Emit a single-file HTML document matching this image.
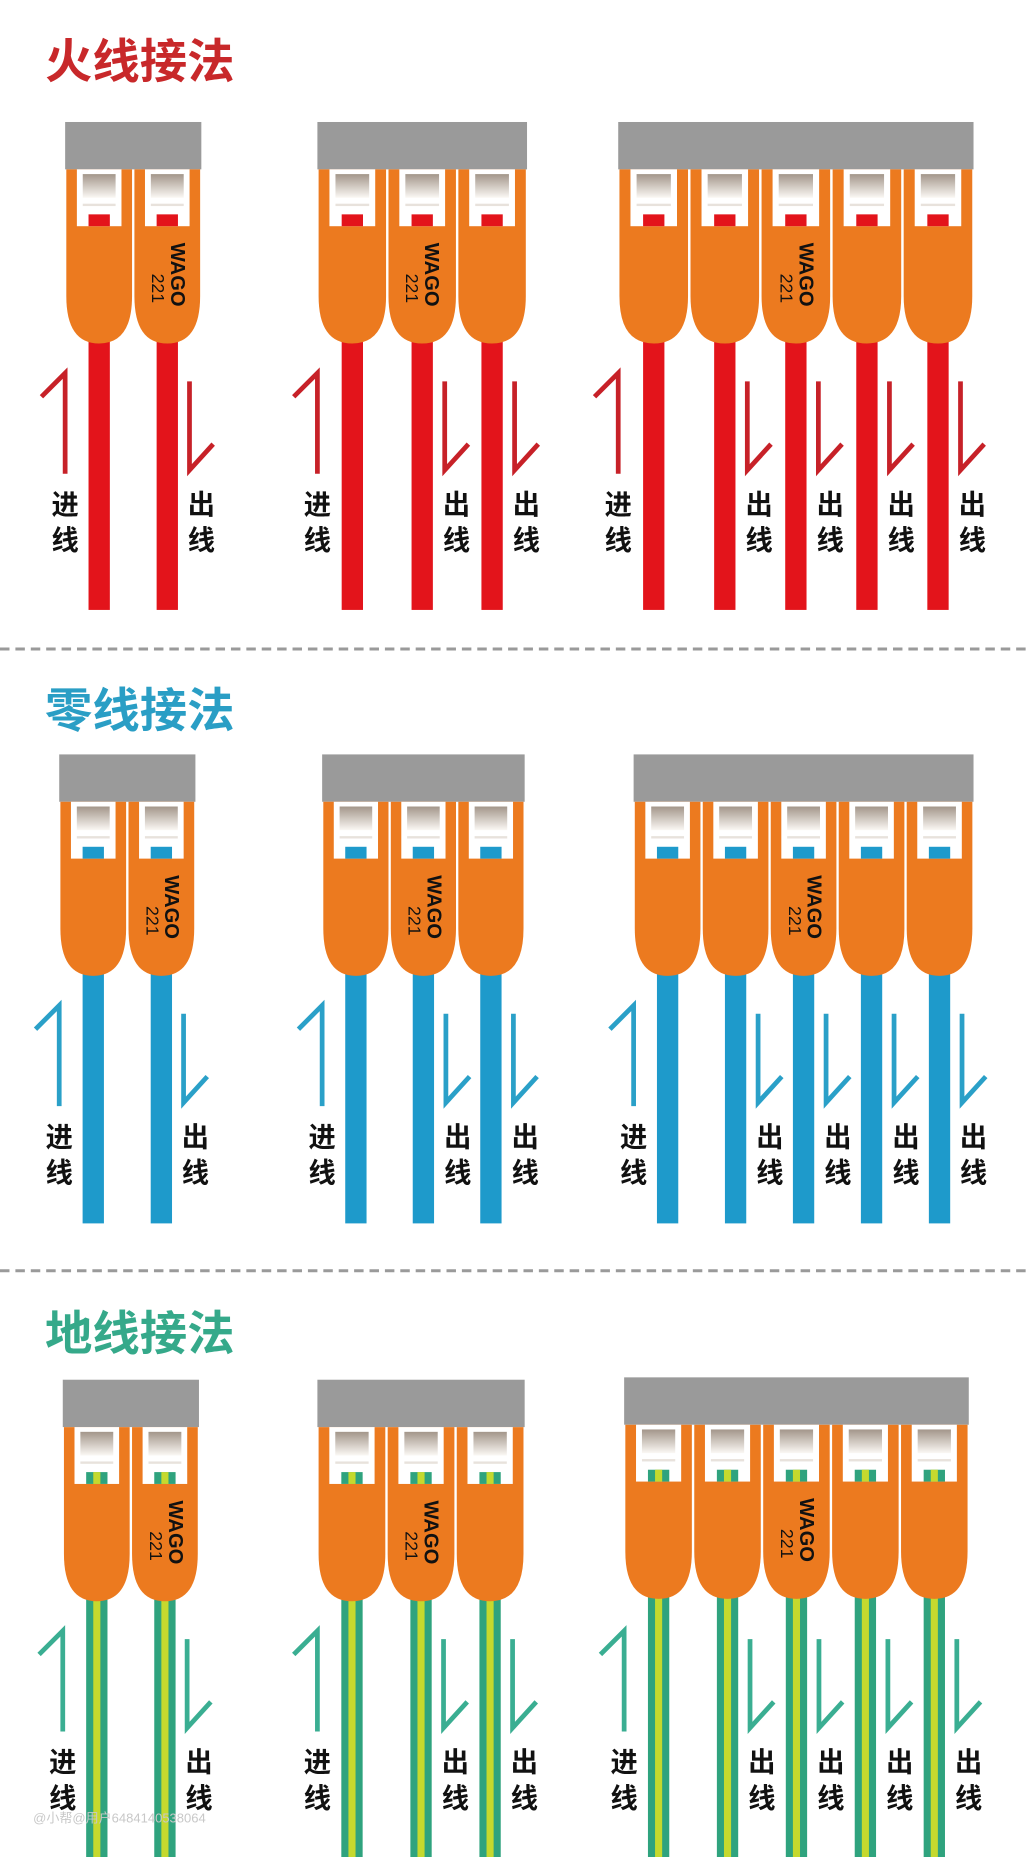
<!DOCTYPE html>
<html><head><meta charset="utf-8">
<style>
html,body{margin:0;padding:0;background:#fff;}
svg{display:block;}
text{font-family:"Liberation Sans","Noto Sans CJK SC",sans-serif;}
.t{font-size:40px;font-weight:bold;}
.l{font-size:23px;font-weight:bold;fill:#111;text-anchor:middle;}
.wg{font-size:17px;font-weight:900;fill:#111;}
.nm{font-size:15px;fill:#111;}
.ar{fill:none;stroke-width:4;}
</style></head><body>
<svg width="1028" height="1857" viewBox="0 0 868 1568" preserveAspectRatio="none" xmlns="http://www.w3.org/2000/svg">
<defs>
<linearGradient id="gr" x1="0" y1="0" x2="0" y2="1">
<stop offset="0" stop-color="#a3968a"/><stop offset="1" stop-color="#fbf8f4"/>
</linearGradient>
<g id="slot">
<path d="M1,40 H57 V147 Q57,187 29,187 Q1,187 1,147 Z" fill="#ec7a1f"/>
<rect x="10" y="40" width="38" height="48" fill="#fff"/>
<rect x="15" y="44" width="28" height="20" fill="url(#gr)"/>
<rect x="15" y="69" width="28" height="2" fill="#e8e2dc"/>
</g>
</defs>
<rect width="868" height="1568" fill="#fff"/>

<!-- ===== Section 1 ===== -->
<text class="t" x="38" y="66" fill="#c8282a">火线接法</text>

<g transform="translate(55,103)">
<g fill="#e3141b"><rect x="19.75" y="150" width="18" height="262"/><rect x="77.25" y="150" width="18" height="262"/></g>
<rect width="115" height="40" fill="#9a9a9a"/>
<use href="#slot" transform="scale(.991,1)"/><use href="#slot" transform="translate(57.5,0) scale(.991,1)"/>
<g fill="#e3141b"><rect x="19.75" y="78" width="18" height="10"/><rect x="77.25" y="78" width="18" height="10"/></g>
<g transform="translate(89.5,102) rotate(90)"><text class="wg" x="0" y="0">WAGO</text><text class="nm" x="26" y="16">221</text></g>
<g class="ar" stroke="#c72128"><path d="M0,297 V212 L-20,232"/><path d="M105,219 V294 L125,272"/></g>
<text class="l" x="0" y="331">进</text><text class="l" x="0" y="361">线</text>
<text class="l" x="115" y="331">出</text><text class="l" x="115" y="361">线</text>
</g>

<g transform="translate(268,103)">
<g fill="#e3141b"><rect x="20.5" y="150" width="18" height="262"/><rect x="79.5" y="150" width="18" height="262"/><rect x="138.5" y="150" width="18" height="262"/></g>
<rect width="177" height="40" fill="#9a9a9a"/>
<use href="#slot" transform="scale(1.017,1)"/><use href="#slot" transform="translate(59,0) scale(1.017,1)"/><use href="#slot" transform="translate(118,0) scale(1.017,1)"/>
<g fill="#e3141b"><rect x="20.5" y="78" width="18" height="10"/><rect x="79.5" y="78" width="18" height="10"/><rect x="138.5" y="78" width="18" height="10"/></g>
<g transform="translate(91,102) rotate(90)"><text class="wg" x="0" y="0">WAGO</text><text class="nm" x="26" y="16">221</text></g>
<g class="ar" stroke="#c72128"><path d="M0,297 V212 L-20,232"/><path d="M107.5,219 V294 L127.5,272"/><path d="M166.5,219 V294 L186.5,272"/></g>
<text class="l" x="0" y="331">进</text><text class="l" x="0" y="361">线</text>
<text class="l" x="117.5" y="331">出</text><text class="l" x="117.5" y="361">线</text>
<text class="l" x="176.5" y="331">出</text><text class="l" x="176.5" y="361">线</text>
</g>

<g transform="translate(522,103)">
<g fill="#e3141b"><rect x="21" y="150" width="18" height="262"/><rect x="81" y="150" width="18" height="262"/><rect x="141" y="150" width="18" height="262"/><rect x="201" y="150" width="18" height="262"/><rect x="261" y="150" width="18" height="262"/></g>
<rect width="300" height="40" fill="#9a9a9a"/>
<use href="#slot" transform="scale(1.034,1)"/><use href="#slot" transform="translate(60,0) scale(1.034,1)"/><use href="#slot" transform="translate(120,0) scale(1.034,1)"/><use href="#slot" transform="translate(180,0) scale(1.034,1)"/><use href="#slot" transform="translate(240,0) scale(1.034,1)"/>
<g fill="#e3141b"><rect x="21" y="78" width="18" height="10"/><rect x="81" y="78" width="18" height="10"/><rect x="141" y="78" width="18" height="10"/><rect x="201" y="78" width="18" height="10"/><rect x="261" y="78" width="18" height="10"/></g>
<g transform="translate(153,102) rotate(90)"><text class="wg" x="0" y="0">WAGO</text><text class="nm" x="26" y="16">221</text></g>
<g class="ar" stroke="#c72128"><path d="M0,297 V212 L-20,232"/><path d="M109,219 V294 L129,272"/><path d="M169,219 V294 L189,272"/><path d="M229,219 V294 L249,272"/><path d="M289,219 V294 L309,272"/></g>
<text class="l" x="0" y="331">进</text><text class="l" x="0" y="361">线</text>
<text class="l" x="119" y="331">出</text><text class="l" x="119" y="361">线</text>
<text class="l" x="179" y="331">出</text><text class="l" x="179" y="361">线</text>
<text class="l" x="239" y="331">出</text><text class="l" x="239" y="361">线</text>
<text class="l" x="299" y="331">出</text><text class="l" x="299" y="361">线</text>
</g>

<line x1="0" y1="548" x2="868" y2="548" stroke="#9a9a9a" stroke-width="2.5" stroke-dasharray="8 5"/>

<!-- ===== Section 2 ===== -->
<text class="t" x="38" y="614" fill="#2a9ec5">零线接法</text>

<g transform="translate(50,637)">
<g fill="#1e9acb"><rect x="19.75" y="150" width="18" height="246"/><rect x="77.25" y="150" width="18" height="246"/></g>
<rect width="115" height="40" fill="#9a9a9a"/>
<use href="#slot" transform="scale(.991,1)"/><use href="#slot" transform="translate(57.5,0) scale(.991,1)"/>
<g fill="#1e9acb"><rect x="19.75" y="78" width="18" height="10"/><rect x="77.25" y="78" width="18" height="10"/></g>
<g transform="translate(89.5,102) rotate(90)"><text class="wg" x="0" y="0">WAGO</text><text class="nm" x="26" y="16">221</text></g>
<g class="ar" stroke="#2aa0c8"><path d="M0,297 V212 L-20,232"/><path d="M105,219 V294 L125,272"/></g>
<text class="l" x="0" y="331">进</text><text class="l" x="0" y="361">线</text>
<text class="l" x="115" y="331">出</text><text class="l" x="115" y="361">线</text>
</g>

<g transform="translate(272,637)">
<g fill="#1e9acb"><rect x="19.5" y="150" width="18" height="246"/><rect x="76.5" y="150" width="18" height="246"/><rect x="133.5" y="150" width="18" height="246"/></g>
<rect width="171" height="40" fill="#9a9a9a"/>
<use href="#slot" transform="scale(.983,1)"/><use href="#slot" transform="translate(57,0) scale(.983,1)"/><use href="#slot" transform="translate(114,0) scale(.983,1)"/>
<g fill="#1e9acb"><rect x="19.5" y="78" width="18" height="10"/><rect x="76.5" y="78" width="18" height="10"/><rect x="133.5" y="78" width="18" height="10"/></g>
<g transform="translate(89,102) rotate(90)"><text class="wg" x="0" y="0">WAGO</text><text class="nm" x="26" y="16">221</text></g>
<g class="ar" stroke="#2aa0c8"><path d="M0,297 V212 L-20,232"/><path d="M104.5,219 V294 L124.5,272"/><path d="M161.5,219 V294 L181.5,272"/></g>
<text class="l" x="0" y="331">进</text><text class="l" x="0" y="361">线</text>
<text class="l" x="114.5" y="331">出</text><text class="l" x="114.5" y="361">线</text>
<text class="l" x="171.5" y="331">出</text><text class="l" x="171.5" y="361">线</text>
</g>

<g transform="translate(535,637)">
<g fill="#1e9acb"><rect x="19.7" y="150" width="18" height="246"/><rect x="77.1" y="150" width="18" height="246"/><rect x="134.5" y="150" width="18" height="246"/><rect x="191.9" y="150" width="18" height="246"/><rect x="249.3" y="150" width="18" height="246"/></g>
<rect width="287" height="40" fill="#9a9a9a"/>
<use href="#slot" transform="scale(.99,1)"/><use href="#slot" transform="translate(57.4,0) scale(.99,1)"/><use href="#slot" transform="translate(114.8,0) scale(.99,1)"/><use href="#slot" transform="translate(172.2,0) scale(.99,1)"/><use href="#slot" transform="translate(229.6,0) scale(.99,1)"/>
<g fill="#1e9acb"><rect x="19.7" y="78" width="18" height="10"/><rect x="77.1" y="78" width="18" height="10"/><rect x="134.5" y="78" width="18" height="10"/><rect x="191.9" y="78" width="18" height="10"/><rect x="249.3" y="78" width="18" height="10"/></g>
<g transform="translate(147,102) rotate(90)"><text class="wg" x="0" y="0">WAGO</text><text class="nm" x="26" y="16">221</text></g>
<g class="ar" stroke="#2aa0c8"><path d="M0,297 V212 L-20,232"/><path d="M105.1,219 V294 L125.1,272"/><path d="M162.5,219 V294 L182.5,272"/><path d="M219.9,219 V294 L239.9,272"/><path d="M277.3,219 V294 L297.3,272"/></g>
<text class="l" x="0" y="331">进</text><text class="l" x="0" y="361">线</text>
<text class="l" x="115" y="331">出</text><text class="l" x="115" y="361">线</text>
<text class="l" x="172.5" y="331">出</text><text class="l" x="172.5" y="361">线</text>
<text class="l" x="230" y="331">出</text><text class="l" x="230" y="361">线</text>
<text class="l" x="287" y="331">出</text><text class="l" x="287" y="361">线</text>
</g>

<line x1="0" y1="1073" x2="868" y2="1073" stroke="#9a9a9a" stroke-width="2.5" stroke-dasharray="8 5"/>

<!-- ===== Section 3 ===== -->
<text class="t" x="38" y="1140" fill="#35a98a">地线接法</text>

<g transform="translate(53,1165)">
<g fill="#2fa37e"><rect x="19.75" y="150" width="18" height="260"/><rect x="77.25" y="150" width="18" height="260"/></g>
<g fill="#c5d92e"><rect x="25.75" y="150" width="6" height="260"/><rect x="83.25" y="150" width="6" height="260"/></g>
<rect width="115" height="40" fill="#9a9a9a"/>
<use href="#slot" transform="scale(.991,1)"/><use href="#slot" transform="translate(57.5,0) scale(.991,1)"/>
<g fill="#2fa37e"><rect x="19.75" y="78" width="18" height="10"/><rect x="77.25" y="78" width="18" height="10"/></g>
<g fill="#c5d92e"><rect x="25.75" y="78" width="6" height="10"/><rect x="83.25" y="78" width="6" height="10"/></g>
<g transform="translate(89.5,102) rotate(90)"><text class="wg" x="0" y="0">WAGO</text><text class="nm" x="26" y="16">221</text></g>
<g class="ar" stroke="#3aae92"><path d="M0,297 V212 L-20,232"/><path d="M105,219 V294 L125,272"/></g>
<text class="l" x="0" y="331">进</text><text class="l" x="0" y="361">线</text>
<text class="l" x="115" y="331">出</text><text class="l" x="115" y="361">线</text>
</g>

<g transform="translate(268,1165)">
<g fill="#2fa37e"><rect x="20.2" y="150" width="18" height="260"/><rect x="78.5" y="150" width="18" height="260"/><rect x="136.8" y="150" width="18" height="260"/></g>
<g fill="#c5d92e"><rect x="26.2" y="150" width="6" height="260"/><rect x="84.5" y="150" width="6" height="260"/><rect x="142.8" y="150" width="6" height="260"/></g>
<rect width="175" height="40" fill="#9a9a9a"/>
<use href="#slot" transform="scale(1.006,1)"/><use href="#slot" transform="translate(58.33,0) scale(1.006,1)"/><use href="#slot" transform="translate(116.67,0) scale(1.006,1)"/>
<g fill="#2fa37e"><rect x="20.2" y="78" width="18" height="10"/><rect x="78.5" y="78" width="18" height="10"/><rect x="136.8" y="78" width="18" height="10"/></g>
<g fill="#c5d92e"><rect x="26.2" y="78" width="6" height="10"/><rect x="84.5" y="78" width="6" height="10"/><rect x="142.8" y="78" width="6" height="10"/></g>
<g transform="translate(90.5,102) rotate(90)"><text class="wg" x="0" y="0">WAGO</text><text class="nm" x="26" y="16">221</text></g>
<g class="ar" stroke="#3aae92"><path d="M0,297 V212 L-20,232"/><path d="M106.5,219 V294 L126.5,272"/><path d="M164.8,219 V294 L184.8,272"/></g>
<text class="l" x="0" y="331">进</text><text class="l" x="0" y="361">线</text>
<text class="l" x="116.5" y="331">出</text><text class="l" x="116.5" y="361">线</text>
<text class="l" x="174.8" y="331">出</text><text class="l" x="174.8" y="361">线</text>
</g>

<g transform="translate(527,1163)">
<g fill="#2fa37e"><rect x="20.1" y="150" width="18" height="260"/><rect x="78.3" y="150" width="18" height="260"/><rect x="136.5" y="150" width="18" height="260"/><rect x="194.7" y="150" width="18" height="260"/><rect x="252.9" y="150" width="18" height="260"/></g>
<g fill="#c5d92e"><rect x="26.1" y="150" width="6" height="260"/><rect x="84.3" y="150" width="6" height="260"/><rect x="142.5" y="150" width="6" height="260"/><rect x="200.7" y="150" width="6" height="260"/><rect x="258.9" y="150" width="6" height="260"/></g>
<rect width="291" height="40" fill="#9a9a9a"/>
<use href="#slot" transform="scale(1.003,1)"/><use href="#slot" transform="translate(58.2,0) scale(1.003,1)"/><use href="#slot" transform="translate(116.4,0) scale(1.003,1)"/><use href="#slot" transform="translate(174.6,0) scale(1.003,1)"/><use href="#slot" transform="translate(232.8,0) scale(1.003,1)"/>
<g fill="#2fa37e"><rect x="20.1" y="78" width="18" height="10"/><rect x="78.3" y="78" width="18" height="10"/><rect x="136.5" y="78" width="18" height="10"/><rect x="194.7" y="78" width="18" height="10"/><rect x="252.9" y="78" width="18" height="10"/></g>
<g fill="#c5d92e"><rect x="26.1" y="78" width="6" height="10"/><rect x="84.3" y="78" width="6" height="10"/><rect x="142.5" y="78" width="6" height="10"/><rect x="200.7" y="78" width="6" height="10"/><rect x="258.9" y="78" width="6" height="10"/></g>
<g transform="translate(148.5,102) rotate(90)"><text class="wg" x="0" y="0">WAGO</text><text class="nm" x="26" y="16">221</text></g>
<g class="ar" stroke="#3aae92"><path d="M0,299 V214 L-20,234"/><path d="M106.3,221 V296 L126.3,274"/><path d="M164.5,221 V296 L184.5,274"/><path d="M222.7,221 V296 L242.7,274"/><path d="M280.9,221 V296 L300.9,274"/></g>
<text class="l" x="0" y="333">进</text><text class="l" x="0" y="363">线</text>
<text class="l" x="116.3" y="333">出</text><text class="l" x="116.3" y="363">线</text>
<text class="l" x="174.5" y="333">出</text><text class="l" x="174.5" y="363">线</text>
<text class="l" x="232.7" y="333">出</text><text class="l" x="232.7" y="363">线</text>
<text class="l" x="290.9" y="333">出</text><text class="l" x="290.9" y="363">线</text>
</g>

<text x="28" y="1539" font-size="11" fill="#c8c8c8">@小帮@用户6484140538064</text>
</svg>
</body></html>
